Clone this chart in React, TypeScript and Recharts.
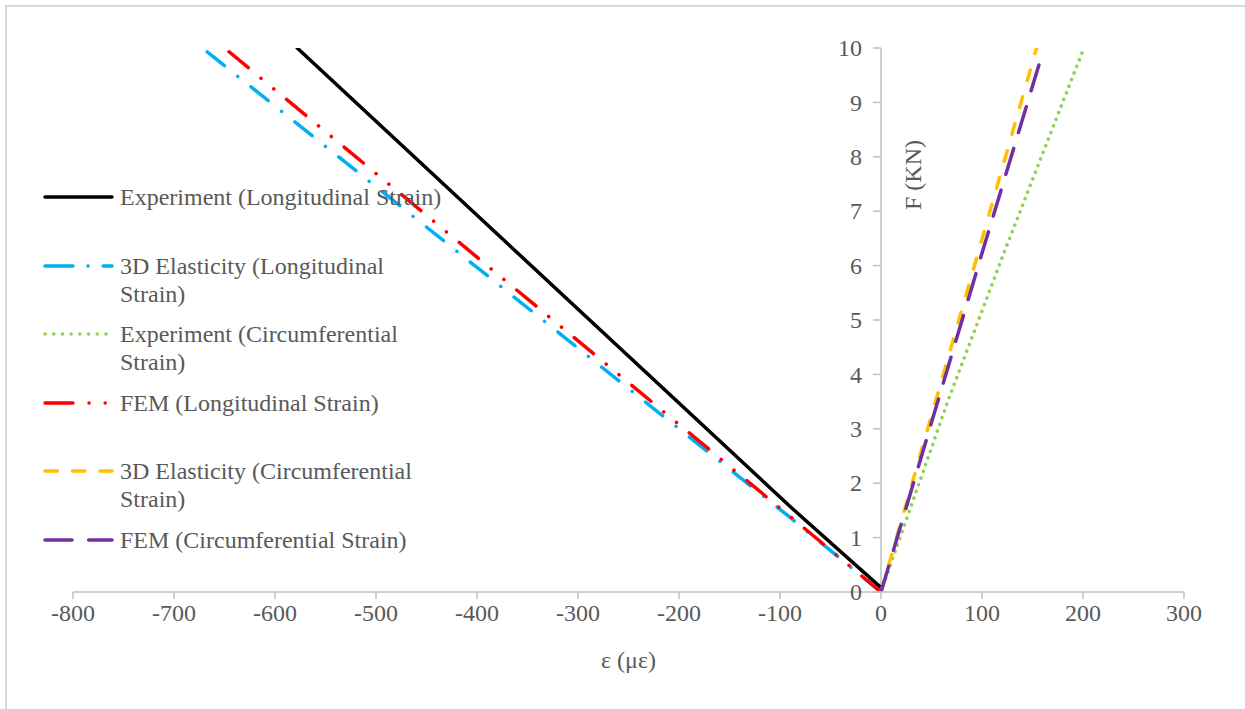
import React from 'react';
import { LineChart, Line, XAxis, YAxis, ReferenceLine, Legend, Label } from 'recharts';

// ---- data ----
const X_TICKS = [-800, -700, -600, -500, -400, -300, -200, -100, 0, 100, 200, 300];
const Y_TICKS = [0, 1, 2, 3, 4, 5, 6, 7, 8, 9, 10];

const EXP_LONG_X = [0, -87, -578];
const EXP_LONG_F = [0.08, 1.52, 10];
const ELAS_LONG_X = [0, -90, -672];
const ELAS_LONG_F = [0, 1.37, 10];
const EXP_CIRC_X = [0, 66, 121, 200];
const EXP_CIRC_F = [0, 3.5, 6.2, 9.96];
const FEM_LONG_X = [0, -92, -650];
const FEM_LONG_F = [0, 1.42, 10];
const ELAS_CIRC_X = [0, 95, 154];
const ELAS_CIRC_F = [0, 6.16, 10];
const FEM_CIRC_X = [0, 57, 101, 158];
const FEM_CIRC_F = [0, 3.55, 6.29, 9.79];

const SERIES_NAMES = [
  'Experiment (Longitudinal Strain)',
  '3D Elasticity (Longitudinal Strain)',
  'Experiment (Circumferential Strain)',
  'FEM (Longitudinal Strain)',
  '3D Elasticity (Circumferential Strain)',
  'FEM (Circumferential Strain)',
];

const X_LABEL = 'ε (με)';
const Y_LABEL = 'F (KN)';

// ---- layout / styles ----
const W = 1245;
const H = 709;
const MARGIN = { top: 48, right: 61, left: 72, bottom: 37 };
const Y_AXIS_W = 1;
const X_AXIS_H = 80;
const XMIN = -800;
const XMAX = 300;
const PLOT_LEFT = MARGIN.left + Y_AXIS_W;
const PLOT_W = W - PLOT_LEFT - MARGIN.right;
const X_ZERO = PLOT_LEFT + (PLOT_W * (0 - XMIN)) / (XMAX - XMIN);

const FONT = "'Liberation Serif', Tinos, 'Times New Roman', 'DejaVu Serif', serif";
const TEXT = '#595959';
const AXIS = '#BFBFBF';
const FS = 24;

const toPoints = (xs: number[], fs: number[]) => xs.map((x, i) => ({ x, y: fs[i] }));

type Style = { color: string; dash?: string; legendDash?: string; cap: 'round' | 'butt' };
const STYLES: Style[] = [
  { color: '#000000', cap: 'round' },
  { color: '#00B0F0', dash: '22 17 0.1 17', legendDash: '28 15 0.1 15', cap: 'round' },
  { color: '#92D050', dash: '0.1 7', legendDash: '0.1 8.6', cap: 'round' },
  { color: '#FF0000', dash: '25 16.5 0.1 16.5 0.1 16.5', legendDash: '28 16 0.1 16 0.1 16', cap: 'round' },
  { color: '#FFC000', dash: '11 17', legendDash: '12.5 15', cap: 'round' },
  { color: '#7030A0', dash: '27 16.6', legendDash: '27 16.6', cap: 'round' },
];

const DATA = [
  toPoints(EXP_LONG_X, EXP_LONG_F),
  toPoints(ELAS_LONG_X, ELAS_LONG_F),
  toPoints(EXP_CIRC_X, EXP_CIRC_F),
  toPoints(FEM_LONG_X, FEM_LONG_F),
  toPoints(ELAS_CIRC_X, ELAS_CIRC_F),
  toPoints(FEM_CIRC_X, FEM_CIRC_F),
];

const YTick = (props: any) => {
  const { y, payload } = props;
  return (
    <g>
      <line x1={X_ZERO - 8} x2={X_ZERO} y1={y} y2={y} stroke={AXIS} strokeWidth={1.5} />
      <text x={X_ZERO - 19} y={y} dy="0.34em" textAnchor="end" fill={TEXT} fontSize={FS} fontFamily={FONT}>
        {payload.value}
      </text>
    </g>
  );
};

const YLabelContent = (props: any) => {
  const vb = props.viewBox || { x: X_ZERO, y: MARGIN.top };
  const x = vb.x + 32;
  const y = vb.y + 127;
  return (
    <text
      x={x}
      y={y}
      dy="0.34em"
      textAnchor="middle"
      transform={`rotate(-90, ${x}, ${y})`}
      fill={TEXT}
      fontSize={FS}
      fontFamily={FONT}
    >
      {Y_LABEL}
    </text>
  );
};

const renderLegend = (props: any) => {
  const payload = ([...(props.payload || [])] as any[]).sort(
    (a, b) => SERIES_NAMES.indexOf(a.value) - SERIES_NAMES.indexOf(b.value)
  );
  return (
    <div style={{ fontFamily: FONT, fontSize: FS, color: TEXT, lineHeight: '28px' }}>
      {payload.map((entry: any) => {
        const idx = SERIES_NAMES.indexOf(entry.value);
        const st = STYLES[idx] || STYLES[0];
        return (
          <div key={entry.value} style={{ display: 'flex', alignItems: 'flex-start', height: 68.6 }}>
            <svg width={72} height={28} style={{ flex: 'none' }}>
              <line
                x1={2}
                x2={69}
                y1={14}
                y2={14}
                stroke={st.color}
                strokeWidth={3.5}
                strokeDasharray={st.legendDash}
                strokeLinecap={st.cap}
              />
            </svg>
            <div style={{ width: 327, marginLeft: 5, textAlign: 'left' }}>{entry.value}</div>
          </div>
        );
      })}
    </div>
  );
};

export default function App() {
  return (
    <div style={{ position: 'absolute', left: 0, top: 0, width: W, height: H, overflow: 'hidden', background: '#fff' }}>
      <div
        style={{
          position: 'absolute',
          left: 5,
          top: 5,
          width: W + 20,
          height: H + 20,
          border: '2px solid #D9D9D9',
          boxSizing: 'border-box',
        }}
      />
      <div style={{ position: 'absolute', left: 0, top: 0 }}>
        <LineChart width={W} height={H} margin={MARGIN}>
          <XAxis
            dataKey="x"
            type="number"
            domain={[XMIN, XMAX]}
            ticks={X_TICKS}
            interval={0}
            height={X_AXIS_H}
            tickSize={7}
            tickMargin={5}
            axisLine={{ stroke: AXIS, strokeWidth: 1.5 }}
            tickLine={{ stroke: AXIS, strokeWidth: 1.5 }}
            tick={{ fill: TEXT, fontSize: FS, fontFamily: FONT }}
            allowDataOverflow
          >
            <Label
              value={X_LABEL}
              position="insideBottom"
              offset={4}
              fill={TEXT}
              fontSize={FS}
              fontFamily={FONT}
            />
          </XAxis>
          <YAxis
            type="number"
            domain={[0, 10]}
            ticks={Y_TICKS}
            interval={0}
            width={Y_AXIS_W}
            axisLine={false}
            tickLine={false}
            tick={<YTick />}
            allowDataOverflow
          />
          <ReferenceLine x={0} stroke={AXIS} strokeWidth={1.5} label={<YLabelContent />} />
          <Legend
            layout="vertical"
            align="center"
            verticalAlign="middle"
            itemSorter={null as any}
            content={renderLegend}
            wrapperStyle={{ left: 43, top: 183, width: 420, margin: 0 }}
          />
          {SERIES_NAMES.map((name, i) => (
            <Line
              key={name}
              name={name}
              data={DATA[i]}
              dataKey="y"
              type="linear"
              stroke={STYLES[i].color}
              strokeWidth={3.5}
              strokeDasharray={STYLES[i].dash}
              strokeLinecap={STYLES[i].cap}
              dot={false}
              activeDot={false}
              isAnimationActive={false}
              legendType="line"
            />
          ))}
        </LineChart>
      </div>
    </div>
  );
}
